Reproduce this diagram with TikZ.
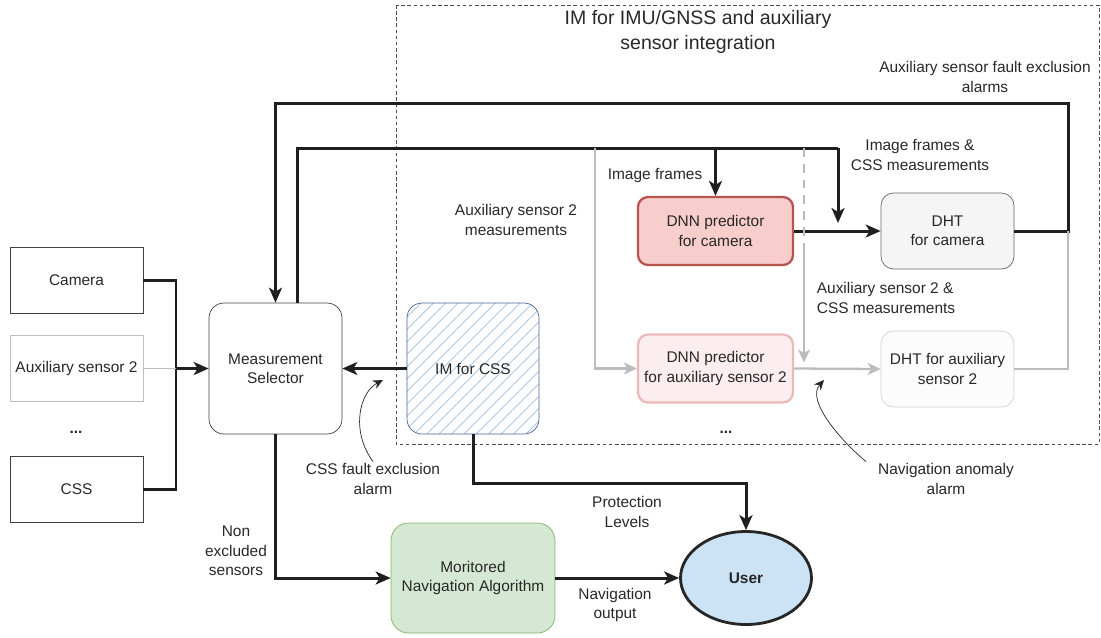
\documentclass[tikz,border=0pt]{standalone}
\usepackage{fontspec}
\setmainfont{Liberation Sans}
\usetikzlibrary{
  arrows.meta,
  positioning,
  calc,
  shapes.geometric,
  patterns.meta
}
\definecolor{dnnred}{RGB}{184,84,80}
\definecolor{dnnfill}{RGB}{248,206,204}
\definecolor{dnnauxdraw}{RGB}{234,186,184}
\definecolor{dnnauxfill}{RGB}{252,238,238}
\definecolor{navgreen}{RGB}{130,179,102}
\definecolor{navfill}{RGB}{213,232,212}
\definecolor{cssblue}{RGB}{70,100,150}
\definecolor{hatchblue}{RGB}{175,200,225}
\definecolor{userblue}{RGB}{204,226,245}
\definecolor{linegray}{RGB}{188,188,192}
\definecolor{textgray}{RGB}{40,40,40}
\tikzset{
  labeltext/.style={
    align=center,
    text=textgray,
    inner sep=1pt,
    font=\fontsize{8.8}{11}\selectfont
  },
  basebox/.style={
    draw=black!75,
    align=center,
    inner sep=2pt,
    text=textgray,
    font=\fontsize{8.8}{11}\selectfont
  },
  sensorbox/.style={basebox,minimum width=2.66cm,minimum height=1.32cm},
  selectorbox/.style={basebox,rounded corners=0.3cm,minimum width=2.66cm,minimum height=2.62cm},
  cssbox/.style={
    basebox,
    draw=cssblue,
    rounded corners=0.3cm,
    minimum width=2.64cm,
    minimum height=2.62cm,
    pattern={Lines[angle=45,distance=5pt,line width=0.5pt]},
    pattern color=hatchblue
  },
  dnnbox/.style={basebox,rounded corners=0.2cm,line width=1.3pt,draw=dnnred,fill=dnnfill,
    minimum width=3.1cm,minimum height=1.36cm},
  dnnauxbox/.style={dnnbox,draw=dnnauxdraw,fill=dnnauxfill},
  dhtbox/.style={basebox,rounded corners=0.25cm,draw=black!60,fill=black!4,
    minimum width=2.66cm,minimum height=1.52cm},
  dhtauxbox/.style={dhtbox,draw=black!18,fill=black!1},
  navbox/.style={basebox,rounded corners=0.35cm,draw=navgreen,fill=navfill,
    minimum width=3.28cm,minimum height=2.2cm},
  userbox/.style={ellipse,draw=black!85,line width=1.6pt,fill=userblue,
    minimum width=2.62cm,minimum height=1.86cm,
    font=\fontsize{8.8}{11}\selectfont\bfseries,text=textgray},
  mainarrow/.style={-{Stealth[length=3mm,width=2.6mm,inset=0.8mm]},line width=1.7pt,draw=black!88},
  mainline/.style={line width=1.7pt,draw=black!88},
  grayarrow/.style={-{Stealth[length=2.6mm,width=2.4mm,inset=0.7mm]},line width=1.3pt,draw=linegray},
  grayline/.style={line width=1.3pt,draw=linegray},
  notearrow/.style={-{Stealth[length=2mm,width=1.8mm]},thin,draw=black!85},
  imframe/.style={draw=black!70,dashed,dash pattern=on 2pt off 1.5pt,thin}
}

\begin{document}
\begin{tikzpicture}[x=0.02cm,y=-0.02cm]
  \useasboundingbox (0,0) rectangle (1101,637);
  % integrity monitoring frame
  \draw[imframe] (396,5) rectangle (1099,444);
  \node[labeltext,font=\fontsize{11.1}{14.2}\selectfont] (title) at (698,32)
    {IM for IMU/GNSS and auxiliary\\sensor integration};

  % sensors
  \node[sensorbox] (camera) at (76.5,280.5) {Camera};
  \node[sensorbox,draw=black!25] (aux2) at (76.5,368.5) {Auxiliary sensor 2};
  \node[labeltext,font=\fontsize{8.8}{11}\selectfont\bfseries] (sdots) at (76,432) {...};
  \node[sensorbox] (css) at (76.5,489) {CSS};

  \node[selectorbox] (selector) at (275.5,368.5) {Measurement\\Selector};
  \node[cssbox] (imcss) at (473,368.5) {IM for CSS};

  % predictors and tests
  \node[dnnbox] (dnncam) at (715.5,231) {DNN predictor\\for camera};
  \node[dhtbox] (dhtcam) at (947.5,231) {DHT\\for camera};
  \node[dnnauxbox] (dnnaux) at (715.5,368.5) {DNN predictor\\for auxiliary sensor 2};
  \node[dhtauxbox] (dhtaux) at (947.5,369) {DHT for auxiliary\\sensor 2};
  \node[labeltext,font=\fontsize{8.8}{11}\selectfont\bfseries] (pdots) at (726,432) {...};

  \node[navbox] (nav) at (473,578) {Moritored\\Navigation Algorithm};
  \node[userbox] (user) at (746,578) {User};

  % labels
  \node[labeltext] (auxmeas) at (516,220) {Auxiliary sensor 2\\measurements};
  \node[labeltext] (imgframes) at (655,176) {Image frames};
  \node[labeltext] (imgcss) at (920,155) {Image frames \&\\CSS measurements};
  \node[labeltext] (auxalarm) at (985,77) {Auxiliary sensor fault exclusion\\alarms};
  \node[labeltext,align=left] (auxcss) at (886,298) {Auxiliary sensor 2 \&\\CSS measurements};
  \node[labeltext] (cssalarm) at (373,479) {CSS fault exclusion\\alarm};
  \node[labeltext] (navalarm) at (946,479) {Navigation anomaly\\alarm};
  \node[labeltext] (protlev) at (627,512) {Protection\\Levels};
  \node[labeltext] (navout) at (615,605) {Navigation\\output};
  \node[labeltext] (nonexcl) at (236,551) {Non\\excluded\\sensors};

  % helper points
  \coordinate (jn) at (176,368.5);
  \coordinate (r1) at (1068,103);
  \coordinate (r2) at (838,148);
  \coordinate (g1) at (595,148);
  \coordinate (g2) at (804,148);
  \coordinate (g2b) at (804,250);
  \coordinate (pl) at (746,483);
  \coordinate (selout) at ([xshift=0.44cm]selector.north);

  % sensor inputs
  \draw[mainline] (camera.east) -| (jn);
  \draw[mainline] (css.east) -| (jn);
  \draw[grayline,line width=1pt] (aux2.east) -- (jn);
  \draw[mainarrow] (jn) -- (selector.west);

  % alarms back to selector
  \draw[mainarrow] (dhtcam.east) -| (r1) -| (selector.north);
  \draw[grayline] (dhtaux.east) -| (dhtcam.east -| r1);
  \draw[mainarrow] (imcss.west) -- (selector.east);

  % measurements to the predictors
  \draw[mainline] (selout) |- (r2);
  \draw[mainarrow] (r2) -- ([yshift=0.16cm]dnncam.east -| r2);
  \draw[mainarrow] (dnncam.north |- r2) -- (dnncam.north);
  \draw[mainarrow] (dnncam.east) -- (dhtcam.west);
  \draw[grayarrow] (g1) |- (dnnaux.west);
  \draw[grayline,dashed,dash pattern=on 5pt off 4pt] (g2) -- (g2b);
  \draw[grayarrow] (g2b) -- ([yshift=0.12cm]dnnaux.east -| g2);
  \draw[grayarrow] (dnnaux.east) -- (dhtaux.west);

  % outputs
  \draw[mainarrow] (imcss.south) |- (pl) -- (user.north);
  \draw[mainarrow] (selector.south) |- (nav.west);
  \draw[mainarrow] (nav.east) -- (user.west);

  % annotation arrows
  \draw[notearrow] (cssalarm.north) .. controls (350,430) and (360,392) .. (383,380);
  \draw[notearrow] ([xshift=-0.2cm]navalarm.north west) .. controls (840,440) and (806,400) .. (824,380);
\end{tikzpicture}
\end{document}
